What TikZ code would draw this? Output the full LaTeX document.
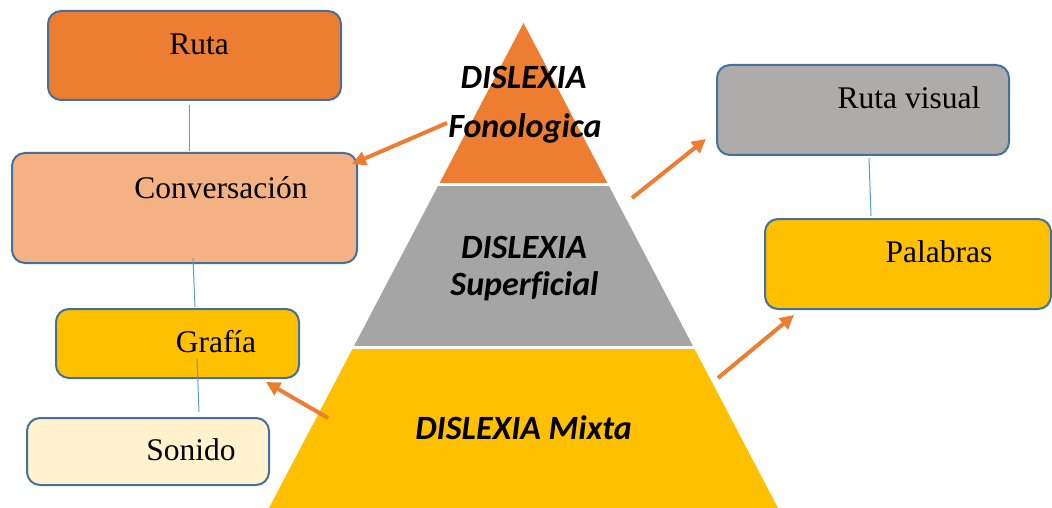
\documentclass[tikz,border=0pt]{standalone}
\usepackage{fontspec}
\setmainfont{Liberation Serif}
\newfontfamily\pyrfont[Ligatures=NoCommon]{Carlito}
\usetikzlibrary{arrows.meta,calc}
\definecolor{orangeA}{HTML}{ED7D31}
\definecolor{peach}{HTML}{F4B183}
\definecolor{gold}{HTML}{FFC000}
\definecolor{cream}{HTML}{FFF2CC}
\definecolor{grayA}{HTML}{A5A5A5}
\definecolor{grayB}{HTML}{AEABAB}
\definecolor{edge}{HTML}{41719C}
\definecolor{thinblue}{HTML}{5B9BD5}
\tikzset{
 box/.style={draw=edge, line width=2pt, rounded corners=13pt, anchor=north west, inner sep=0pt},
 lbl/.style={anchor=base, inner sep=0pt, font=\fontsize{31.5}{37}\selectfont},
 ptext/.style={anchor=base, inner sep=0pt, font=\pyrfont\bfseries\itshape\fontsize{34}{40}\selectfont},
 link/.style={draw=thinblue, line width=1pt},
 arr/.style={draw=orangeA, line width=4pt, -{Triangle[length=14pt,width=14pt]}},
}
\begin{document}
\begin{tikzpicture}[x=1pt,y=-1pt]
\useasboundingbox (0,0) rectangle (1052,508);
% pyramid
\fill[orangeA] (523.5,23) -- (438.8,184.5) -- (608.2,184.5) -- cycle;
\fill[grayA] (438.8,184.5) -- (608.2,184.5) -- (693.5,347) -- (353.5,347) -- cycle;
\fill[gold] (353.5,347) -- (693.5,347) -- (778,508) -- (269,508) -- cycle;
\draw[white, line width=3pt] (430,184.5) -- (617,184.5);
\draw[white, line width=3pt] (345,347) -- (702,347);
\node[ptext] (d1) at (523.5,89) {DISLEXIA};
\node[ptext] (fono) at (525,138) {Fonologica};
\node[ptext] (d2) at (524,258) {DISLEXIA};
\node[ptext] (sup) at (524.5,295) {Superf\kern0pt{}icial};
\node[ptext] (mix) at (523.5,439) {DISLEXIA Mixta};
% left boxes
\node[box, fill=orangeA, minimum width=293pt, minimum height=89pt] (ruta) at (47,10) {};
\node[box, fill=peach, minimum width=345pt, minimum height=110pt] (conv) at (11,152) {};
\node[box, fill=gold, minimum width=243pt, minimum height=69pt] (graf) at (55,308) {};
\node[box, fill=cream, minimum width=242pt, minimum height=67pt] (son) at (26,417) {};
% right boxes
\node[box, fill=grayB, minimum width=292pt, minimum height=90pt] (rv) at (716,64) {};
\node[box, fill=gold, minimum width=286pt, minimum height=90pt] (pal) at (764,218) {};
% labels
\node[lbl] (truta) at (199,55) {Ruta};
\node[lbl] (tconv) at (221,198) {Conversación};
\node[lbl] (tgraf) at (216,352) {Grafía};
\node[lbl] (tson) at (191,460) {Sonido};
\node[lbl] (trv) at (909,109) {Ruta visual};
\node[lbl] (tpal) at (939,262) {Palabras};
% thin links
\draw[link] ($(ruta.south)+(-5.5,4)$) -- ($(conv.north)+(4.5,-1)$);
\draw[link] ($(conv.south)+(8.5,-6)$) -- ($(graf.north)+(17.5,-1)$);
\draw[link] ($(graf.south)+(19.5,-20)$) -- ($(son.north)+(51,-5)$);
\draw[link] ($(rv.south)+(6,2)$) -- ($(pal.north)+(-37,-2)$);
% arrows
\coordinate (a1) at (447,123);
\coordinate (a2) at (632,198);
\coordinate (a3) at (328,418);
\coordinate (a4) at (718,378);
\draw[arr] (a1) -- ($(conv.north east)+(-6,12)$);
\draw[arr] (a2) -- ($(rv.south west)+(-10,-17)$);
\draw[arr] (a3) -- ($(graf.south east)+(-34,3)$);
\draw[arr] (a4) -- ($(pal.south west)+(30,5)$);
\end{tikzpicture}
\end{document}
